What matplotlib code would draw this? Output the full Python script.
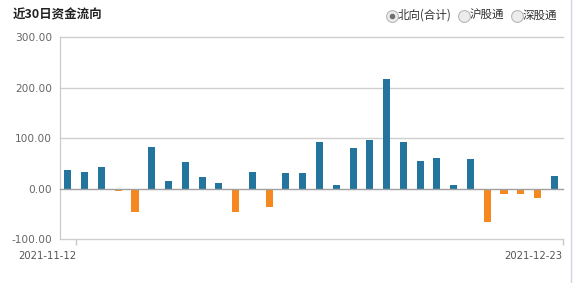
import matplotlib.pyplot as plt
from matplotlib.lines import Line2D

plt.rcParams['font.family'] = ['Noto Sans CJK SC', 'DejaVu Sans']

# 近30日北向资金净流入 (亿元)
dates = ['2021-11-12', '2021-12-23']
values = [37, 33, 43, -5, -45, 82, 15, 53, 23, 11,
          -45, 33, -35, 31, 31, 92, 7, 80, 96, 217,
          92, 55, 61, 7, 59, -66, -11, -11, -18, 25]
yticks = [-100, 0, 100, 200, 300]

blue = '#23759e'
orange = '#f5891f'

fig = plt.figure(figsize=(5.75, 2.83), dpi=100)
ax = fig.add_axes([0.1035, 0.1544, 0.9786 - 0.1035, 0.8675 - 0.1544])

x = list(range(len(values)))
colors = [blue if v >= 0 else orange for v in values]
ax.bar(x, values, width=0.42, color=colors, zorder=2)

ax.set_xlim(-0.5, len(values) - 0.5)
ax.set_ylim(-100, 300)
ax.set_yticks(yticks)
ax.set_yticklabels(['%.2f' % v for v in yticks], fontsize=7.6,
                   color='#666666', family='DejaVu Sans')
ax.tick_params(axis='y', length=0, pad=5.4)

# 网格线
for v in yticks:
    if v == 0:
        ax.axhline(v, color='#a0a0a0', lw=1, zorder=3, clip_on=False)
    else:
        ax.axhline(v, color='#cfcfcf', lw=1, zorder=1, clip_on=False)

ax.set_xticks([0.5, len(values) - 0.5])
ax.set_xticklabels(dates, fontsize=7.2, color='#555555', family='DejaVu Sans')
for lab in ax.get_xticklabels():
    lab.set_ha('right')
ax.tick_params(axis='x', length=4, width=1, color='#c8c8c8', pad=4.5)

for s in ['top', 'right', 'bottom']:
    ax.spines[s].set_visible(False)
ax.spines['left'].set_color('#c8c8c8')

# 标题
fig.text(12.5 / 575, 1 - 15.5 / 283, '近30日资金流向', fontsize=9,
         fontweight='bold', color='#222222', va='center', ha='left')

# 单选按钮
radios = [(392, '北向(合计)', True), (464, '沪股通', False), (517, '深股通', False)]
for cx, txt, on in radios:
    cy = 1 - 15.5 / 283
    fig.add_artist(Line2D([cx / 575], [cy], marker='o', ms=8.5,
                          mfc='#ececec', mec='#b8b8b8', mew=0.8,
                          transform=fig.transFigure))
    if on:
        fig.add_artist(Line2D([cx / 575], [cy], marker='o', ms=3,
                              mfc='#707070', mec='#707070',
                              transform=fig.transFigure))
    fig.text((cx + 5.5) / 575, cy, txt, fontsize=8.3, color='#333333',
             va='center', ha='left')

# 右侧边框
fig.add_artist(Line2D([571 / 575, 571 / 575], [0, 1], color='#d0d6e4',
                      lw=1, transform=fig.transFigure))

fig.savefig('out.png', dpi=100)
